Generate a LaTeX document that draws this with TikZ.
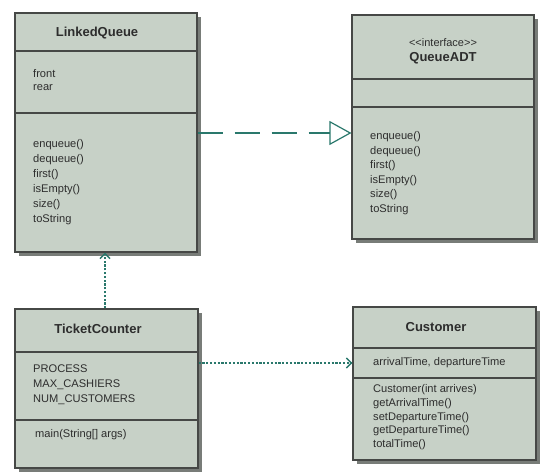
\documentclass[tikz,border=0pt]{standalone}
\usepackage{fontspec}
\setmainfont{Liberation Sans}
\usetikzlibrary{arrows.meta}
\definecolor{boxfill}{RGB}{199,209,199}
\definecolor{boxedge}{RGB}{70,72,70}
\definecolor{shadowc}{RGB}{120,124,120}
\definecolor{teal2}{RGB}{42,120,108}
\definecolor{txtc}{RGB}{45,45,45}
\tikzset{
  classbox/.style={draw=boxedge, fill=boxfill, line width=1.1pt},
  shadowbox/.style={fill=shadowc, draw=none},
  divider/.style={draw=boxedge, line width=1.1pt},
  txt/.style={anchor=west, inner sep=0pt, text height=8pt, text depth=2.5pt, font=\fontsize{11.1}{12}\selectfont, text=txtc},
  ttl/.style={anchor=center, inner sep=0pt, text height=9pt, text depth=3pt, font=\fontsize{13}{14}\selectfont\bfseries, text=txtc},
  stereo/.style={anchor=center, inner sep=0pt, text height=8pt, text depth=2.5pt, font=\fontsize{11}{12}\selectfont, text=txtc},
  realize/.style={draw=teal2, line width=1.2pt, dash pattern=on 25pt off 12pt, -{Triangle[open, length=22pt, width=24pt, line width=1.2pt]}},
  depend/.style={draw=teal2, line width=1.5pt, dash pattern=on 2.2pt off 1.6pt, -{Straight Barb[length=5pt, width=10pt, line width=1.5pt]}},
}
\begin{document}
\begin{tikzpicture}[x=1pt, y=-1pt]
\useasboundingbox (0,0) rectangle (546,472);
% LinkedQueue
\fill[shadowbox] (19,17) rectangle (201,256);
\node[classbox, minimum width=182pt, minimum height=239pt, inner sep=0pt] (lq) at (106,132.5) {};
\draw[divider] (15,51) -- (197,51);
\draw[divider] (15,113) -- (197,113);
\node[ttl] (lqt) at (97,33) {LinkedQueue};
\node[txt] (lqa1) at (33,75) {front};
\node[txt] (lqa2) at (33,88) {rear};
\foreach \t [count=\i] in {enqueue(),dequeue(),first(),isEmpty(),size(),toString}
  \node[txt] (lqm\i) at (33,{145+15*(\i-1)}) {\t};
% QueueADT
\fill[shadowbox] (356,19) rectangle (538,243);
\node[classbox, minimum width=182pt, minimum height=224pt, inner sep=0pt] (qa) at (443,127) {};
\draw[divider] (352,79) -- (534,79);
\draw[divider] (352,107) -- (534,107);
\node[stereo] (qas) at (443,44) {{<}{<}interface{>}{>}};
\node[ttl] (qat) at (443,58) {QueueADT};
\foreach \t [count=\i] in {enqueue(),dequeue(),first(),isEmpty(),size(),toString}
  \node[txt] (qam\i) at (370,{137+14.5*(\i-1)}) {\t};
% TicketCounter
\fill[shadowbox] (19,313) rectangle (202,472);
\node[classbox, minimum width=183pt, minimum height=159pt, inner sep=0pt] (tc) at (106.5,388.5) {};
\draw[divider] (15,352) -- (198,352);
\draw[divider] (15,420) -- (198,420);
\node[ttl] (tct) at (98,330) {TicketCounter};
\node[txt] (tca1) at (33,370) {PROCESS};
\node[txt] (tca2) at (33,385) {MAX\_CASHIERS};
\node[txt] (tca3) at (33,400) {NUM\_CUSTOMERS};
\node[txt] (tcm1) at (35,435) {main(String[] args)};
% Customer
\fill[shadowbox] (357,311) rectangle (540,464);
\node[classbox, minimum width=183pt, minimum height=153pt, inner sep=0pt] (cu) at (444.5,383.5) {};
\draw[divider] (353,348) -- (536,348);
\draw[divider] (353,378) -- (536,378);
\node[ttl] (cut) at (436,328) {Customer};
\node[txt] (cua1) at (373,363) {arrivalTime, departureTime};
\foreach \t [count=\i] in {{Customer(int arrives)},getArrivalTime(),setDepartureTime(),getDepartureTime(),totalTime()}
  \node[txt] (cum\i) at (373,{390+13.7*(\i-1)}) {\t};
% connectors
\draw[realize] (lq.east |- 0,133) -- (qa.west |- 0,133);
\draw[depend] (tc.north -| 105,0) -- (lq.south -| 105,0);
\draw[depend] (tc.east |- 0,363) -- (cu.west |- 0,363);
\end{tikzpicture}
\end{document}
